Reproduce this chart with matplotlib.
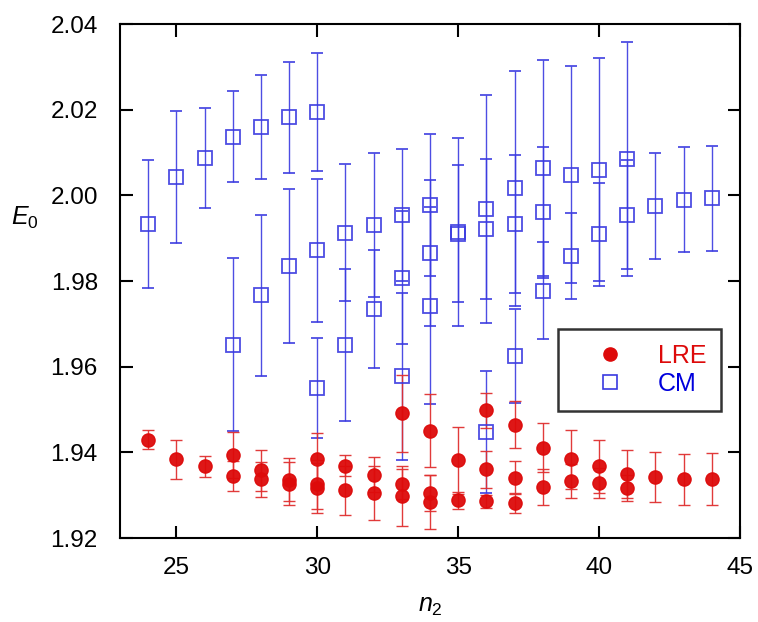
import numpy as np
import matplotlib
matplotlib.use('Agg')
import matplotlib.pyplot as plt
from matplotlib.lines import Line2D

plt.rcParams['font.family'] = ['Liberation Sans', 'DejaVu Sans']
plt.rcParams['mathtext.fontset'] = 'custom'
plt.rcParams['mathtext.it'] = 'Liberation Sans:italic'
plt.rcParams['mathtext.rm'] = 'Liberation Sans'

# Datos CM (cuadrados azules)
cm_n = [24, 25, 26, 27, 27, 28, 28, 29, 29, 30, 30, 30, 31, 31, 32, 32,
        33, 33, 33, 34, 34, 34, 35, 35, 36, 36, 36, 37, 37, 37, 38, 38, 38,
        39, 39, 40, 40, 41, 41, 42, 43, 44]
cm_E = [1.9933, 2.0042, 2.0088, 2.0137, 1.9651, 2.0160, 1.9767, 2.0182, 1.9835,
        2.0195, 1.9872, 1.9550, 1.9913, 1.9651, 1.9931, 1.9735,
        1.9954, 1.9808, 1.9578, 1.9978, 1.9866, 1.9742, 1.9915, 1.9910,
        1.9968, 1.9922, 1.9448, 2.0016, 1.9933, 1.9625, 2.0064, 1.9961, 1.9777,
        2.0048, 1.9858, 2.0060, 1.9909, 2.0084, 1.9955, 1.9975, 1.9990, 1.9993]
cm_err = [0.0150, 0.0154, 0.0117, 0.0107, 0.0202, 0.0122, 0.0188, 0.0130, 0.0180,
          0.0138, 0.0167, 0.0117, 0.0160, 0.0178, 0.0168, 0.0138,
          0.0154, 0.0156, 0.0195, 0.0166, 0.0170, 0.0230, 0.0220, 0.0160,
          0.0267, 0.0163, 0.0142, 0.0274, 0.0161, 0.0110, 0.0252, 0.0153, 0.0113,
          0.0253, 0.0100, 0.0260, 0.0120, 0.0273, 0.0128, 0.0123, 0.0123, 0.0123]

# Datos LRE (circulos rojos)
lre_n = [24, 25, 26, 27, 27, 28, 28, 29, 29, 30, 30, 30, 31, 31, 32, 32,
         33, 33, 33, 34, 34, 34, 35, 35, 36, 36, 36, 37, 37, 37, 38, 38,
         39, 39, 40, 40, 41, 41, 42, 43, 44]
lre_E = [1.9430, 1.9384, 1.9367, 1.9394, 1.9345, 1.9358, 1.9337, 1.9336, 1.9327,
         1.9384, 1.9325, 1.9317, 1.9369, 1.9311, 1.9348, 1.9306,
         1.9491, 1.9327, 1.9297, 1.9451, 1.9305, 1.9284, 1.9381, 1.9288,
         1.9498, 1.9360, 1.9286, 1.9465, 1.9341, 1.9282, 1.9411, 1.9319,
         1.9384, 1.9333, 1.9367, 1.9329, 1.9349, 1.9317, 1.9342, 1.9337, 1.9338]
lre_err = [0.0023, 0.0046, 0.0025, 0.0053, 0.0035, 0.0048, 0.0041, 0.0050, 0.0050,
           0.0062, 0.0057, 0.0058, 0.0025, 0.0057, 0.0041, 0.0063,
           0.0090, 0.0035, 0.0070, 0.0086, 0.0043, 0.0064, 0.0078, 0.0020,
           0.0040, 0.0043, 0.0015, 0.0055, 0.0039, 0.0023, 0.0058, 0.0042,
           0.0069, 0.0040, 0.0063, 0.0035, 0.0056, 0.0030, 0.0058, 0.0059, 0.0060]

azul = '#3a3ae0'
rojo = '#dd0a0a'

fig = plt.figure(figsize=(7.58, 6.22), dpi=100)
ax = fig.add_axes([0.1583, 0.135, 0.818, 0.8264])

ax.errorbar(cm_n, cm_E, yerr=cm_err, fmt='s', mfc='none', mec=azul, mew=1.3,
            ms=9.5, ecolor=azul, elinewidth=1.0, capsize=4, capthick=1.0, alpha=0.9)
ax.errorbar(lre_n, lre_E, yerr=lre_err, fmt='o', color=rojo, ms=9.5,
            ecolor='#e03030', elinewidth=1.0, capsize=4, capthick=1.0, alpha=0.95)

ax.set_xlim(23, 45)
ax.set_ylim(1.92, 2.04)
ax.set_xticks([25, 30, 35, 40, 45])
ax.set_yticks(np.arange(1.92, 2.0401, 0.02))
ax.set_yticklabels(['%.2f' % v for v in np.arange(1.92, 2.0401, 0.02)])
ax.tick_params(direction='in', length=9, width=1.5, labelsize=17.5,
               top=True, right=True)
ax.tick_params(axis='x', pad=14)
ax.tick_params(axis='y', pad=16)
for s in ax.spines.values():
    s.set_linewidth(1.5)

ax.set_xlabel('$n_2$', fontsize=18)
ax.xaxis.set_label_coords(0.5, -0.108)
ax.set_ylabel('$E_0$', fontsize=18, rotation=0, ha='center', va='center')
ax.yaxis.set_label_coords(-0.153, 0.623)

h1 = Line2D([], [], marker='o', ls='none', color=rojo, ms=9.5)
h2 = Line2D([], [], marker='s', ls='none', mfc='none', mec=azul, ms=9.5, mew=1.2)
leg = ax.legend([h1, h2], ['LRE', 'CM'], loc='upper left',
                bbox_to_anchor=(0.706, 0.4066), borderaxespad=0, fontsize=18,
                frameon=True, fancybox=False, edgecolor='black',
                handletextpad=0.4, borderpad=0.6, labelspacing=0.15,
                handlelength=3.0)
leg.get_frame().set_linewidth(1.8)
leg.texts[0].set_color(rojo)
leg.texts[1].set_color('#0000dd')

fig.savefig('out.png', dpi=100)
